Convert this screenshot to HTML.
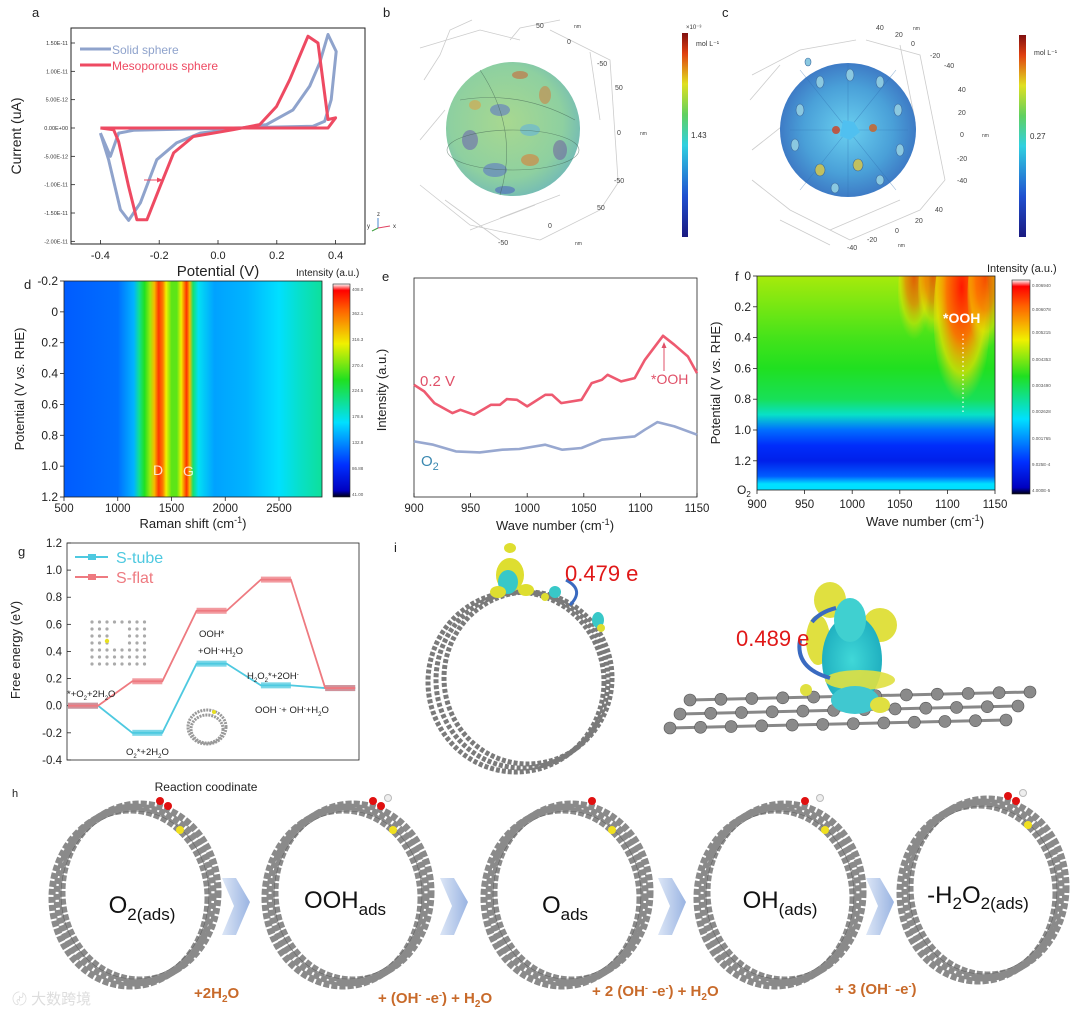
<!DOCTYPE html>
<html><head><meta charset="utf-8">
<style>
html,body{margin:0;padding:0;background:#fff;}
svg{display:block;font-family:"Liberation Sans","Noto Sans CJK SC",sans-serif;}
.t{fill:#222;}
</style></head>
<body>
<svg id="fig" width="1080" height="1015" viewBox="0 0 1080 1015" xmlns="http://www.w3.org/2000/svg">
<defs>
  <linearGradient id="jet" x1="0" y1="1" x2="0" y2="0">
    <stop offset="0" stop-color="#000010"/><stop offset="0.03" stop-color="#0000c0"/>
    <stop offset="0.15" stop-color="#0030ff"/><stop offset="0.35" stop-color="#00e0ff"/>
    <stop offset="0.55" stop-color="#20e020"/><stop offset="0.72" stop-color="#f0f000"/>
    <stop offset="0.88" stop-color="#ff6000"/><stop offset="0.97" stop-color="#ff0000"/>
    <stop offset="1" stop-color="#ffffff"/>
  </linearGradient>
  <linearGradient id="jet2" x1="0" y1="1" x2="0" y2="0">
    <stop offset="0" stop-color="#1a1a80"/><stop offset="0.2" stop-color="#2050d0"/>
    <stop offset="0.45" stop-color="#30d0e0"/><stop offset="0.6" stop-color="#60d060"/>
    <stop offset="0.75" stop-color="#e0e020"/><stop offset="0.9" stop-color="#e04010"/>
    <stop offset="1" stop-color="#801010"/>
  </linearGradient>
  <radialGradient id="sphB" cx="0.45" cy="0.45" r="0.6">
    <stop offset="0" stop-color="#a8d890"/><stop offset="0.7" stop-color="#8ed0a0"/><stop offset="1" stop-color="#70b8b8"/>
  </radialGradient>
  <radialGradient id="sphC" cx="0.5" cy="0.5" r="0.55">
    <stop offset="0" stop-color="#6ad0f0"/><stop offset="0.6" stop-color="#4aa0d8"/><stop offset="1" stop-color="#3a70c0"/>
  </radialGradient>
  <linearGradient id="arr" x1="0" y1="0" x2="1" y2="0">
    <stop offset="0" stop-color="#dce6f6"/><stop offset="1" stop-color="#9ab4e2"/>
  </linearGradient>
  <radialGradient id="blob" cx="0.5" cy="0.5" r="0.5">
    <stop offset="0" stop-color="#40d8d8"/><stop offset="1" stop-color="#20b0c0"/>
  </radialGradient>
  <radialGradient id="peakF" cx="0.5" cy="0.35" r="0.6">
    <stop offset="0" stop-color="#ff1800" stop-opacity="1"/><stop offset="0.45" stop-color="#ff7000" stop-opacity="0.95"/>
    <stop offset="0.75" stop-color="#f0e000" stop-opacity="0.7"/><stop offset="1" stop-color="#c0e020" stop-opacity="0"/>
  </radialGradient>
  <clipPath id="fClip"><rect x="757" y="276" width="238" height="214"/></clipPath>
</defs>

<!-- ============ Panel labels ============ -->
<text x="32" y="17" font-size="13" class="t">a</text>
<text x="383" y="17" font-size="13" class="t">b</text>
<text x="722" y="17" font-size="13" class="t">c</text>
<text x="24" y="289" font-size="13" class="t">d</text>
<text x="382" y="281" font-size="13" class="t">e</text>
<text x="735" y="281" font-size="13" class="t">f</text>
<text x="18" y="556" font-size="13" class="t">g</text>
<text x="394" y="552" font-size="13" class="t">i</text>
<text x="12" y="797" font-size="11" class="t">h</text>

<!-- ============ Panel a ============ -->
<g id="panelA">
  <rect x="71" y="28" width="294" height="216" fill="none" stroke="#222" stroke-width="1"/>
  <text transform="translate(21,136) rotate(-90)" text-anchor="middle" font-size="14" class="t">Current (uA)</text>
  <text x="218" y="276" text-anchor="middle" font-size="15" class="t">Potential (V)</text>
  <g id="aTicks"></g>
  <g id="aLines"></g>
  <line x1="80" y1="49" x2="111" y2="49" stroke="#8fa3cc" stroke-width="3"/>
  <text x="112" y="54" font-size="12" fill="#8fa3cc">Solid sphere</text>
  <line x1="80" y1="65" x2="111" y2="65" stroke="#ee4a62" stroke-width="3"/>
  <text x="112" y="70" font-size="12" fill="#ee4a62">Mesoporous sphere</text>
  <line x1="144" y1="180" x2="160" y2="180" stroke="#ee4a62" stroke-width="1"/>
  <polygon points="163,180 157,177.5 157,182.5" fill="#ee4a62"/>
  <g font-size="6">
    <line x1="378" y1="228" x2="378" y2="218" stroke="#4a8ad0"/><line x1="378" y1="228" x2="390" y2="226" stroke="#e04060"/><line x1="378" y1="228" x2="372" y2="231" stroke="#40a040"/>
    <text x="377" y="216" fill="#333">z</text><text x="393" y="228" fill="#333">x</text><text x="367" y="228" fill="#333">y</text>
  </g>
</g>

<!-- ============ Panel b ============ -->
<g>
  <g stroke="#ccc" stroke-width="0.8" fill="none">
    <path d="M420 48 L480 30 L520 40"/><path d="M424 80 L440 55 L450 30 L472 20"/><path d="M420 140 L445 110"/>
    <path d="M420 185 L470 225 L540 240"/><path d="M445 200 L500 240"/><path d="M540 240 L600 210 L620 180"/>
    <path d="M550 30 L610 60 L618 180"/><path d="M510 40 L520 28 L560 20"/><path d="M590 52 L600 120"/>
    <path d="M500 218 L560 195"/><path d="M470 230 L535 205"/>
  </g>
  <ellipse cx="513" cy="129" rx="67" ry="67" fill="url(#sphB)"/>
  <g opacity="0.55">
    <ellipse cx="500" cy="110" rx="10" ry="6" fill="#5a70c8"/><ellipse cx="470" cy="140" rx="8" ry="10" fill="#6a60b0"/>
    <ellipse cx="530" cy="160" rx="9" ry="6" fill="#e07830"/><ellipse cx="545" cy="95" rx="6" ry="9" fill="#d08040"/>
    <ellipse cx="495" cy="170" rx="12" ry="7" fill="#5a70c8"/><ellipse cx="560" cy="150" rx="7" ry="10" fill="#7060a0"/>
    <ellipse cx="520" cy="75" rx="8" ry="4" fill="#d06030"/><ellipse cx="475" cy="105" rx="6" ry="5" fill="#e0a040"/>
    <ellipse cx="530" cy="130" rx="10" ry="6" fill="#60b0e0"/><ellipse cx="505" cy="190" rx="10" ry="4" fill="#4a60c0"/>
  </g>
  <g fill="none" stroke="#406050" stroke-width="0.6" opacity="0.6">
    <ellipse cx="513" cy="150" rx="66" ry="20"/><path d="M480 70 Q520 130 500 195"/><path d="M460 100 Q520 90 575 120"/>
  </g>
  <g font-size="7" fill="#444">
    <text x="536" y="28">50</text><text x="574" y="28" font-size="5">nm</text><text x="567" y="44">0</text>
    <text x="597" y="66">-50</text><text x="615" y="90">50</text><text x="617" y="135">0</text><text x="640" y="135" font-size="5">nm</text>
    <text x="614" y="183">-50</text><text x="597" y="210">50</text><text x="548" y="228">0</text><text x="498" y="245">-50</text><text x="575" y="245" font-size="5">nm</text>
  </g>
  <rect x="682" y="33" width="6" height="204" fill="url(#jet2)"/>
  <text x="686" y="29" font-size="6" fill="#333">×10⁻³</text>
  <text x="696" y="46" font-size="7" fill="#333">mol L⁻¹</text>
  <text x="691" y="138" font-size="8" fill="#333">1.43</text>
</g>

<!-- ============ Panel c ============ -->
<g>
  <g stroke="#ccc" stroke-width="0.8" fill="none">
    <path d="M752 75 L800 50 L856 40"/><path d="M750 100 L780 65"/><path d="M752 150 L790 120"/>
    <path d="M752 180 L790 210 L850 240"/><path d="M780 220 L830 245"/><path d="M850 240 L920 210 L945 180"/>
    <path d="M866 40 L920 55 L945 180"/><path d="M900 45 L915 120"/><path d="M830 230 L900 200"/>
  </g>
  <ellipse cx="848" cy="130" rx="68" ry="67" fill="url(#sphC)"/>
  <g stroke="#3070b0" stroke-width="0.6" opacity="0.5">
    <line x1="848" y1="130" x2="800" y2="70"/><line x1="848" y1="130" x2="896" y2="70"/><line x1="848" y1="130" x2="790" y2="130"/>
    <line x1="848" y1="130" x2="908" y2="130"/><line x1="848" y1="130" x2="800" y2="190"/><line x1="848" y1="130" x2="896" y2="190"/>
    <line x1="848" y1="130" x2="848" y2="65"/><line x1="848" y1="130" x2="848" y2="196"/>
  </g>
  <g fill="#8ac8e0" stroke="#3a6aa0" stroke-width="0.6">
    <ellipse cx="820" cy="82" rx="4" ry="6"/><ellipse cx="850" cy="75" rx="4" ry="6"/><ellipse cx="880" cy="82" rx="4" ry="6"/>
    <ellipse cx="800" cy="110" rx="4" ry="6"/><ellipse cx="898" cy="110" rx="4" ry="6"/><ellipse cx="795" cy="145" rx="4" ry="6"/>
    <ellipse cx="900" cy="150" rx="4" ry="6"/><ellipse cx="820" cy="170" rx="5" ry="6" fill="#c0c060"/><ellipse cx="858" cy="165" rx="5" ry="6" fill="#c0c060"/>
    <ellipse cx="835" cy="188" rx="4" ry="5"/><ellipse cx="880" cy="180" rx="4" ry="5"/><ellipse cx="808" cy="62" rx="3" ry="4"/>
  </g>
  <circle cx="836" cy="130" r="4" fill="#d04020" opacity="0.8"/><circle cx="873" cy="128" r="4" fill="#d06020" opacity="0.8"/>
  <path d="M843 120 L854 122 L860 132 L850 140 L840 136Z" fill="#50c0f0"/>
  <g font-size="7" fill="#444">
    <text x="876" y="30">40</text><text x="895" y="37">20</text><text x="911" y="46">0</text><text x="913" y="30" font-size="5">nm</text>
    <text x="930" y="58">-20</text><text x="944" y="68">-40</text><text x="958" y="92">40</text><text x="958" y="115">20</text>
    <text x="960" y="137">0</text><text x="982" y="137" font-size="5">nm</text><text x="957" y="161">-20</text><text x="957" y="183">-40</text>
    <text x="935" y="212">40</text><text x="915" y="223">20</text><text x="895" y="233">0</text><text x="867" y="242">-20</text><text x="847" y="250">-40</text><text x="898" y="247" font-size="5">nm</text>
  </g>
  <rect x="1019" y="35" width="7" height="202" fill="url(#jet2)"/>
  <text x="1034" y="55" font-size="7" fill="#333">mol L⁻¹</text>
  <text x="1030" y="139" font-size="8" fill="#333">0.27</text>
</g>

<!-- ============ Panel d ============ -->
<g>
  <g id="dMap"></g>
  <rect x="64" y="281" width="258" height="216" fill="none" stroke="#222" stroke-width="0.8"/>
  <g id="dTicks"></g>
  <text x="153" y="475" font-size="14" fill="#fff" opacity="0.8">D</text>
  <text x="183" y="476" font-size="14" fill="#fff" opacity="0.8">G</text>
  <text transform="translate(24,389) rotate(-90)" text-anchor="middle" font-size="13" class="t">Potential (V <tspan font-style="italic">vs.</tspan> RHE)</text>
  <text x="193" y="528" text-anchor="middle" font-size="13" class="t">Raman shift (cm<tspan dy="-5" font-size="9">-1</tspan><tspan dy="5">)</tspan></text>
  <text x="296" y="276" font-size="10" class="t">Intensity (a.u.)</text>
  <rect x="333" y="284" width="17" height="213" fill="url(#jet)" stroke="#222" stroke-width="0.6"/>
  <g font-size="4.5" fill="#555">
    <text x="352" y="291">408.0</text><text x="352" y="315">362.1</text><text x="352" y="341">316.3</text><text x="352" y="367">270.4</text>
    <text x="352" y="392">224.5</text><text x="352" y="418">178.6</text><text x="352" y="444">132.8</text><text x="352" y="470">86.88</text><text x="352" y="496">41.00</text>
  </g>
</g>

<!-- ============ Panel e ============ -->
<g>
  <rect x="414" y="278" width="283" height="219" fill="none" stroke="#222" stroke-width="0.8"/>
  <g id="eTicks"></g>
  <g id="eLines"></g>
  <text x="420" y="386" font-size="15" fill="#e05068">0.2 V</text>
  <text x="421" y="466" font-size="15" fill="#3a88b0">O<tspan dy="4" font-size="11">2</tspan></text>
  <text x="651" y="384" font-size="14" fill="#e05068">*OOH</text>
  <line x1="664" y1="371" x2="664" y2="345" stroke="#e05068" stroke-width="1"/>
  <polygon points="664,342 661.5,348 666.5,348" fill="#e05068"/>
  <text transform="translate(386,390) rotate(-90)" text-anchor="middle" font-size="13" class="t">Intensity (a.u.)</text>
  <text x="555" y="530" text-anchor="middle" font-size="13" class="t">Wave number (cm<tspan dy="-5" font-size="9">-1</tspan><tspan dy="5">)</tspan></text>
</g>

<!-- ============ Panel f ============ -->
<g>
  <g id="fMap" clip-path="url(#fClip)"></g>
  <rect x="757" y="276" width="238" height="214" fill="none" stroke="#222" stroke-width="0.8"/>
  <g id="fTicks"></g>
  <text x="943" y="323" font-size="14" font-weight="bold" fill="#fff">*OOH</text>
  <line x1="963" y1="334" x2="963" y2="415" stroke="#fff" stroke-width="1.2" stroke-dasharray="1.5 3"/>
  <text transform="translate(720,383) rotate(-90)" text-anchor="middle" font-size="13" class="t">Potential (V <tspan font-style="italic">vs.</tspan> RHE)</text>
  <text x="925" y="526" text-anchor="middle" font-size="13" class="t">Wave number (cm<tspan dy="-5" font-size="9">-1</tspan><tspan dy="5">)</tspan></text>
  <text x="987" y="272" font-size="11" class="t">Intensity (a.u.)</text>
  <rect x="1012" y="280" width="18" height="214" fill="url(#jet)" stroke="#222" stroke-width="0.6"/>
  <g font-size="4.5" fill="#555">
    <text x="1032" y="287">0.006940</text><text x="1032" y="311">0.006078</text><text x="1032" y="334">0.005215</text><text x="1032" y="361">0.004353</text>
    <text x="1032" y="387">0.003490</text><text x="1032" y="413">0.002628</text><text x="1032" y="440">0.001765</text><text x="1032" y="466">9.025E-4</text><text x="1032" y="492">4.000E-5</text>
  </g>
</g>

<!-- ============ Panel g ============ -->
<g>
  <rect x="67" y="543" width="292" height="217" fill="none" stroke="#222" stroke-width="0.8"/>
  <g id="gTicks"></g>
  <g fill="#aaa" id="gInsetFlat"></g>
  <g fill="none" stroke="#999" stroke-width="3" stroke-dasharray="2 1">
    <ellipse cx="207" cy="727" rx="19" ry="17"/><ellipse cx="207" cy="729" rx="16" ry="14"/>
  </g>
  <circle cx="214" cy="712" r="2" fill="#e8e020"/>
  <g id="gLines"></g>
  <line x1="75" y1="557" x2="108" y2="557" stroke="#4ec9e0" stroke-width="2"/><rect x="88" y="554" width="8" height="6" fill="#4ec9e0"/>
  <text x="116" y="563" font-size="16" fill="#4ec9e0">S-tube</text>
  <line x1="75" y1="577" x2="108" y2="577" stroke="#ee7a80" stroke-width="2"/><rect x="88" y="574" width="8" height="6" fill="#ee7a80"/>
  <text x="116" y="583" font-size="16" fill="#ee7a80">S-flat</text>
  <g font-size="9.5" class="t">
    <text x="67" y="697">*+O<tspan dy="3" font-size="6">2</tspan><tspan dy="-3">+2H</tspan><tspan dy="3" font-size="6">2</tspan><tspan dy="-3">O</tspan></text>
    <text x="126" y="755">O<tspan dy="3" font-size="6">2</tspan><tspan dy="-3">*+2H</tspan><tspan dy="3" font-size="6">2</tspan><tspan dy="-3">O</tspan></text>
    <text x="199" y="637">OOH*</text>
    <text x="198" y="654">+OH<tspan dy="-3" font-size="6">-</tspan><tspan dy="3">+H</tspan><tspan dy="3" font-size="6">2</tspan><tspan dy="-3">O</tspan></text>
    <text x="247" y="679">H<tspan dy="3" font-size="6">2</tspan><tspan dy="-3">O</tspan><tspan dy="3" font-size="6">2</tspan><tspan dy="-3">*+2OH</tspan><tspan dy="-3" font-size="6">-</tspan></text>
    <text x="255" y="713">OOH <tspan dy="-3" font-size="6">-</tspan><tspan dy="3">+ OH</tspan><tspan dy="-3" font-size="6">-</tspan><tspan dy="3">+H</tspan><tspan dy="3" font-size="6">2</tspan><tspan dy="-3">O</tspan></text>
  </g>
  <text transform="translate(20,650) rotate(-90)" text-anchor="middle" font-size="13" class="t">Free energy (eV)</text>
  <text x="206" y="791" text-anchor="middle" font-size="12" class="t">Reaction coodinate</text>
</g>

<!-- ============ Panel i ============ -->
<g>
  <g fill="none" stroke="#7a7a7a" stroke-width="5" stroke-dasharray="4 2">
    <ellipse cx="516" cy="682" rx="88" ry="90"/><ellipse cx="522" cy="680" rx="86" ry="88"/><ellipse cx="528" cy="678" rx="84" ry="86"/>
  </g>
  <g>
    <ellipse cx="510" cy="575" rx="14" ry="17" fill="#dede30"/><ellipse cx="508" cy="582" rx="10" ry="12" fill="#38c8c8"/>
    <ellipse cx="498" cy="592" rx="8" ry="6" fill="#dede30"/><ellipse cx="526" cy="590" rx="8" ry="6" fill="#dede30"/>
    <ellipse cx="510" cy="548" rx="6" ry="5" fill="#dede30"/><ellipse cx="555" cy="592" rx="6" ry="6" fill="#38c8c8"/>
    <ellipse cx="545" cy="597" rx="4" ry="4" fill="#dede30"/><ellipse cx="598" cy="620" rx="6" ry="8" fill="#38c8c8"/><ellipse cx="601" cy="628" rx="4" ry="4" fill="#dede30"/>
  </g>
  <path d="M566 580 Q585 590 570 605" fill="none" stroke="#3a6ac0" stroke-width="3"/>
  <text x="565" y="581" font-size="22" fill="#e01818">0.479 e</text>
  <g id="iSheet"></g>
  <g>
    <ellipse cx="830" cy="600" rx="16" ry="18" fill="#e0e040"/><ellipse cx="880" cy="625" rx="17" ry="17" fill="#e0e040"/>
    <ellipse cx="818" cy="640" rx="12" ry="25" fill="#e0e040"/>
    <ellipse cx="852" cy="660" rx="30" ry="45" fill="url(#blob)"/><ellipse cx="850" cy="620" rx="16" ry="22" fill="#40d0d0"/>
    <ellipse cx="860" cy="680" rx="35" ry="10" fill="#e0e040" opacity="0.9"/><ellipse cx="855" cy="700" rx="24" ry="14" fill="#40c8d0"/>
    <ellipse cx="880" cy="705" rx="10" ry="8" fill="#e0e040"/><ellipse cx="806" cy="690" rx="6" ry="6" fill="#e0e040"/>
  </g>
  <path d="M800 640 Q795 668 830 678" fill="none" stroke="#3a6ac0" stroke-width="4"/>
  <path d="M812 622 Q820 612 836 608" fill="none" stroke="#3a6ac0" stroke-width="4"/>
  <text x="736" y="646" font-size="22" fill="#e01818">0.489 e</text>
</g>

<!-- ============ Panel h ============ -->
<g id="hPanel"></g>
<g font-size="15" font-weight="bold" fill="#c86a2a">
  <text x="194" y="998">+2H<tspan dy="4" font-size="10">2</tspan><tspan dy="-4">O</tspan></text>
  <text x="378" y="1003">+ (OH<tspan dy="-5" font-size="9">-</tspan><tspan dy="5"> -e</tspan><tspan dy="-5" font-size="9">-</tspan><tspan dy="5">) + H</tspan><tspan dy="4" font-size="10">2</tspan><tspan dy="-4">O</tspan></text>
  <text x="592" y="996">+ 2 (OH<tspan dy="-5" font-size="9">-</tspan><tspan dy="5"> -e</tspan><tspan dy="-5" font-size="9">-</tspan><tspan dy="5">) + H</tspan><tspan dy="4" font-size="10">2</tspan><tspan dy="-4">O</tspan></text>
  <text x="835" y="994">+ 3 (OH<tspan dy="-5" font-size="9">-</tspan><tspan dy="5"> -e</tspan><tspan dy="-5" font-size="9">-</tspan><tspan dy="5">)</tspan></text>
</g>
<text x="12" y="1004" font-size="15" fill="#ddd">〄 大数跨境</text>
</svg>

<script>
// ---------------- DATA ----------------
const cvSolidV = [-0.4,-0.372,-0.332,-0.304,-0.264,-0.208,-0.14,-0.061,0.052,0.165,0.255,0.312,0.346,0.374,0.402,0.385,0.363,0.323,0.052,-0.287,-0.338,-0.366,-0.4];
const cvSolidI = [-0.9,-5.6,-14.4,-16.3,-13.2,-5.6,-2.6,-0.9,-0.2,0.6,3.2,7.4,11.5,16.5,13.5,5.0,1.2,0.3,0,-0.4,-0.9,-5,-0.9];
const cvMesoV = [-0.4,-0.355,-0.338,-0.304,-0.276,-0.242,-0.197,-0.151,-0.084,0.052,0.142,0.199,0.244,0.306,0.34,0.374,0.4,0.374,-0.4];
const cvMesoI = [0,-0.3,-2.4,-10.3,-16.2,-16.2,-10.3,-4.4,-1.5,-0.3,0.6,3.8,8.5,16.2,15,1.5,1.8,0,0];
const cvYTicks = [15,10,5,0,-5,-10,-15,-20];
const cvYTickLabels = ["1.50E-11","1.00E-11","5.00E-12","0.00E+00","-5.00E-12","-1.00E-11","-1.50E-11","-2.00E-11"];
const cvXTicks = [-0.4,-0.2,0.0,0.2,0.4];

const ramanShift = [500,1000,1150,1200,1250,1300,1340,1380,1420,1450,1500,1550,1590,1620,1640,1670,1700,1750,1900,2200,2500,2700,2900];
const ramanValue = [0.2,0.22,0.3,0.45,0.55,0.65,0.78,0.93,0.85,0.72,0.6,0.6,0.72,0.85,0.94,0.78,0.48,0.36,0.28,0.3,0.35,0.4,0.44];
const ramanXTicks = [500,1000,1500,2000,2500];
const potentialTicks = [-0.2,0,0.2,0.4,0.6,0.8,1.0,1.2];

const spec02Wave = [900,909,918,934,941,953,968,976,982,991,1000,1016,1022,1030,1048,1057,1066,1071,1083,1095,1104,1120,1130,1142,1151];
const spec02Int = [3.37,3.17,2.82,2.52,2.62,2.47,2.77,2.77,2.94,2.92,2.72,3.07,3.07,2.82,2.92,3.42,3.52,3.67,3.47,3.57,4.12,4.84,4.57,4.22,3.72];
const specO2Wave = [900,917,937,958,978,993,1016,1031,1048,1066,1080,1095,1104,1115,1130,1151];
const specO2Int = [1.67,1.57,1.37,1.34,1.42,1.44,1.57,1.42,1.47,1.72,1.77,1.82,2.02,2.25,2.12,1.87];
const waveTicks = [900,950,1000,1050,1100,1150];

const irPotential = [0,0.2,0.4,0.6,0.8,0.9,1.0,1.1,1.2,1.3,1.35];
const irValue = [0.66,0.62,0.58,0.55,0.5,0.4,0.22,0.14,0.1,0.2,0.35];
const irPeakWave = [1065,1085,1115,1140];
const irPeakStrength = [0.4,0.35,1.0,0.5];
const irYTicks = [0,0.2,0.4,0.6,0.8,1.0,1.2];

const stepIndex = [0,1,2,3,4];
const sTube = [0,-0.2,0.31,0.15,0.13];
const sFlat = [0,0.18,0.70,0.93,0.13];
const feTicks = [1.2,1.0,0.8,0.6,0.4,0.2,0.0,-0.2,-0.4];
</script>
<script>
const NS = "http://www.w3.org/2000/svg";
function mk(tag, attrs, parent){ const e=document.createElementNS(NS,tag); for(const k in attrs) e.setAttribute(k,attrs[k]); if(parent) parent.appendChild(e); return e; }
function jet(v){
  const st=[[0,[0,0,192]],[0.15,[0,48,255]],[0.35,[0,224,255]],[0.55,[32,224,32]],[0.72,[240,240,0]],[0.88,[255,96,0]],[1,[255,0,0]]];
  v=Math.max(0,Math.min(1,v));
  for(let i=1;i<st.length;i++){ if(v<=st[i][0]){ const a=st[i-1],b=st[i],t=(v-a[0])/(b[0]-a[0]); const c=a[1].map((x,j)=>Math.round(x+(b[1][j]-x)*t)); return `rgb(${c[0]},${c[1]},${c[2]})`; } }
  return "rgb(255,0,0)";
}

// ---------- Panel a ----------
(function(){
  const x = v => 71 + (v+0.5)*294;
  const y = i => 128 - i*5.667;
  const tk=document.getElementById('aTicks'), ln=document.getElementById('aLines');
  cvYTicks.forEach((t,k)=>{
    const l=mk('line',{x1:71,y1:y(t),x2:75,y2:y(t),stroke:'#222','stroke-width':0.8},tk);
    
    
    const tx=mk('text',{x:68,y:y(t)+2,'text-anchor':'end','font-size':5.5,fill:'#333'},tk); tx.textContent=cvYTickLabels[k];
    
    
  });
  cvXTicks.forEach(t=>{
    mk('line',{x1:x(t),y1:244,x2:x(t),y2:240,stroke:'#222','stroke-width':0.8},tk);
    const tx=mk('text',{x:x(t),y:259,'text-anchor':'middle','font-size':11,fill:'#222'},tk); tx.textContent=t.toFixed(1);
    
    
  });
  function path(V,I,col,name){
    const d=V.map((v,i)=>(i?'L':'M')+x(v).toFixed(1)+' '+y(I[i]).toFixed(1)).join(' ');
    const p=mk('path',{d:d,fill:'none',stroke:col,'stroke-width':3,'stroke-linejoin':'round'},ln);
    
    
  }
  path(cvSolidV,cvSolidI,'#8fa3cc','cv-solid-sphere-curve');
  path(cvMesoV,cvMesoI,'#ee4a62','cv-mesoporous-sphere-curve');
})();

// ---------- Panel d ----------
(function(){
  const x = s => 64 + (s-500)/2400*258;
  const y = p => 281 + (p+0.2)/1.4*216;
  const g=document.getElementById('dMap');
  const defs=document.querySelector('defs');
  const lg=mk('linearGradient',{id:'ramanGrad',x1:0,y1:0,x2:1,y2:0},defs);
  ramanShift.forEach((s,i)=>{ mk('stop',{offset:((s-500)/2400).toFixed(4),'stop-color':jet(ramanValue[i])},lg); });
  const r=mk('rect',{x:64,y:281,width:258,height:216,fill:'url(#ramanGrad)'},g);
  
  
  const tk=document.getElementById('dTicks');
  potentialTicks.forEach(p=>{
    mk('line',{x1:64,y1:y(p),x2:60,y2:y(p),stroke:'#222','stroke-width':0.8},tk);
    const t=mk('text',{x:58,y:y(p)+4,'text-anchor':'end','font-size':12,fill:'#222'},tk); t.textContent=(p===0?'0':p.toFixed(1));
    
    
  });
  ramanXTicks.forEach(s=>{
    mk('line',{x1:x(s),y1:497,x2:x(s),y2:501,stroke:'#222','stroke-width':0.8},tk);
    const t=mk('text',{x:x(s),y:512,'text-anchor':'middle','font-size':11.5,fill:'#222'},tk); t.textContent=s;
    
    
  });
})();

// ---------- Panel e ----------
(function(){
  const x = w => 414 + (w-900)/250*283;
  const y = v => 497 - v*33.3;
  const tk=document.getElementById('eTicks'), ln=document.getElementById('eLines');
  waveTicks.forEach(w=>{
    mk('line',{x1:x(w),y1:497,x2:x(w),y2:493,stroke:'#222','stroke-width':0.8},tk);
    const t=mk('text',{x:x(w),y:512,'text-anchor':'middle','font-size':11.5,fill:'#222'},tk); t.textContent=w;
    
    
  });
  function path(W,I,col,name){
    const d=W.map((w,i)=>(i?'L':'M')+Math.min(697,x(w)).toFixed(1)+' '+y(I[i]).toFixed(1)).join(' ');
    const p=mk('path',{d:d,fill:'none',stroke:col,'stroke-width':2.6,'stroke-linejoin':'round'},ln);
    
    
  }
  path(spec02Wave,spec02Int,'#ee5a70','spectrum-0-2v');
  path(specO2Wave,specO2Int,'#98a8d0','spectrum-o2');
})();

// ---------- Panel f ----------
(function(){
  const x = w => 757 + (w-900)/250*238;
  const y = p => 276 + p/0.2*30.8;
  const g=document.getElementById('fMap');
  const defs=document.querySelector('defs');
  const lg=mk('linearGradient',{id:'irGrad',x1:0,y1:0,x2:0,y2:1},defs);
  irPotential.forEach((p,i)=>{ mk('stop',{offset:Math.min(1,(y(p)-276)/214).toFixed(4),'stop-color':jet(irValue[i])},lg); });
  const r=mk('rect',{x:757,y:276,width:238,height:214,fill:'url(#irGrad)'},g);
  
  
  irPeakWave.forEach((w,i)=>{
    const s=irPeakStrength[i];
    const e=mk('ellipse',{cx:x(w),cy:276+40*s,rx:8+20*s,ry:25+70*s,fill:'url(#peakF)',opacity:Math.min(1,0.45+s*0.55)},g);
    
    
  });
  const tk=document.getElementById('fTicks');
  irYTicks.forEach(p=>{
    mk('line',{x1:757,y1:y(p),x2:753,y2:y(p),stroke:'#222','stroke-width':0.8},tk);
    const t=mk('text',{x:751,y:y(p)+4,'text-anchor':'end','font-size':12,fill:'#222'},tk); t.textContent=(p===0?'0':p.toFixed(1));
    
    
  });
  const o=mk('text',{x:737,y:494,'font-size':12,fill:'#222'},tk); o.innerHTML='O<tspan dy="3" font-size="8">2</tspan>';
  waveTicks.forEach(w=>{
    mk('line',{x1:x(w),y1:490,x2:x(w),y2:494,stroke:'#222','stroke-width':0.8},tk);
    const t=mk('text',{x:x(w),y:508,'text-anchor':'middle','font-size':11.5,fill:'#222'},tk); t.textContent=w;
    
    
  });
})();

// ---------- Panel g ----------
(function(){
  const xc = i => 83 + i*64.3;
  const y = v => 705.7 - v*135.6;
  const tk=document.getElementById('gTicks'), ln=document.getElementById('gLines');
  feTicks.forEach(v=>{
    mk('line',{x1:67,y1:y(v),x2:71,y2:y(v),stroke:'#222','stroke-width':0.8},tk);
    const t=mk('text',{x:62,y:y(v)+4,'text-anchor':'end','font-size':11.5,fill:'#222'},tk); t.textContent=v.toFixed(1);
    
    
  });
  function series(vals,col,name){
    const hw=15;
    let d='';
    vals.forEach((v,i)=>{ d+=(i?'L':'M')+(xc(i)-hw)+' '+y(v)+' L'+(xc(i)+hw)+' '+y(v)+' '; });
    const p=mk('path',{d:d,fill:'none',stroke:col,'stroke-width':1.8},ln);
    
    
    vals.forEach((v,i)=>{
      const r=mk('rect',{x:xc(i)-hw,y:y(v)-3,width:hw*2,height:6,fill:col,opacity:0.75},ln);
      
      
    });
  }
  series(sTube,'#4ec9e0','s-tube');
  series(sFlat,'#ee7a80','s-flat');
  const inset=document.getElementById('gInsetFlat');
  for(let r=0;r<7;r++) for(let c=0;c<8;c++){ if((r>=1&&r<=3)&&(c>=3&&c<=4)) continue; mk('circle',{cx:92+c*7.5,cy:622+r*7,r:1.6},inset); }
  mk('circle',{cx:107,cy:641,r:2.2,fill:'#e8e020'},inset);
})();

// ---------- Panel i graphene sheet ----------
(function(){
  const g=document.getElementById('iSheet');
  for(let r=0;r<3;r++){
    const yy=700+r*14, x0=690-r*10, x1=1030-r*12;
    mk('line',{x1:x0,y1:yy,x2:x1,y2:yy-8,stroke:'#888','stroke-width':3},g);
    for(let k=0;k<12;k++){ const xx=x0+k*(x1-x0)/11; mk('circle',{cx:xx,cy:yy-8*k/11,r:6,fill:'#8a8a8a',stroke:'#555','stroke-width':0.6},g); }
  }
})();

// ---------- Panel h tubes ----------
(function(){
  const g=document.getElementById('hPanel');
  const tubes=[[130,898],[343,898],[562,898],[775,898],[978,893]];
  tubes.forEach((t,i)=>{
    const [cx,cy]=t;
    [[0,0],[5,-3],[10,-6]].forEach(o=>{
      mk('ellipse',{cx:cx+o[0],cy:cy+o[1],rx:78,ry:88,fill:'none',stroke:'#8a8a8a','stroke-width':7,'stroke-dasharray':'6 2'},g);
    });
    mk('ellipse',{cx:cx+5,cy:cy-3,rx:74,ry:84,fill:'none',stroke:'#666','stroke-width':0.6},g);
    mk('circle',{cx:cx+50,cy:cy-68,r:4,fill:'#f0e020'},g);
    mk('circle',{cx:cx+30,cy:cy-97,r:4,fill:'#e01010'},g);
    if(i!==2 && i!==3) mk('circle',{cx:cx+38,cy:cy-92,r:4,fill:'#e01010'},g);
    if(i===1||i===3||i===4) mk('circle',{cx:cx+45,cy:cy-100,r:3.5,fill:'#eee',stroke:'#bbb'},g);
  });
  const labs=[[142,913,'O<tspan dy="7" font-size="17">2(ads)</tspan>'],[345,908,'OOH<tspan dy="7" font-size="17">ads</tspan>'],[565,913,'O<tspan dy="7" font-size="17">ads</tspan>'],[780,908,'OH<tspan dy="7" font-size="17">(ads)</tspan>'],[978,903,'-H<tspan dy="6" font-size="17">2</tspan><tspan dy="-6">O</tspan><tspan dy="6" font-size="17">2(ads)</tspan>']];
  labs.forEach((l,i)=>{
    const t=mk('text',{x:l[0],y:l[1],'text-anchor':'middle','font-size':24,fill:'#111'},g);
    t.innerHTML=l[2];
    
    
  });
  [222,440,658,866].forEach((ax,i)=>{
    const p=mk('polygon',{points:`${ax},878 ${ax+14},878 ${ax+28},902 ${ax+14},935 ${ax},935 ${ax+12},906`,fill:'url(#arr)'},g);
    
    
  });
})();
</script>
</body></html>
